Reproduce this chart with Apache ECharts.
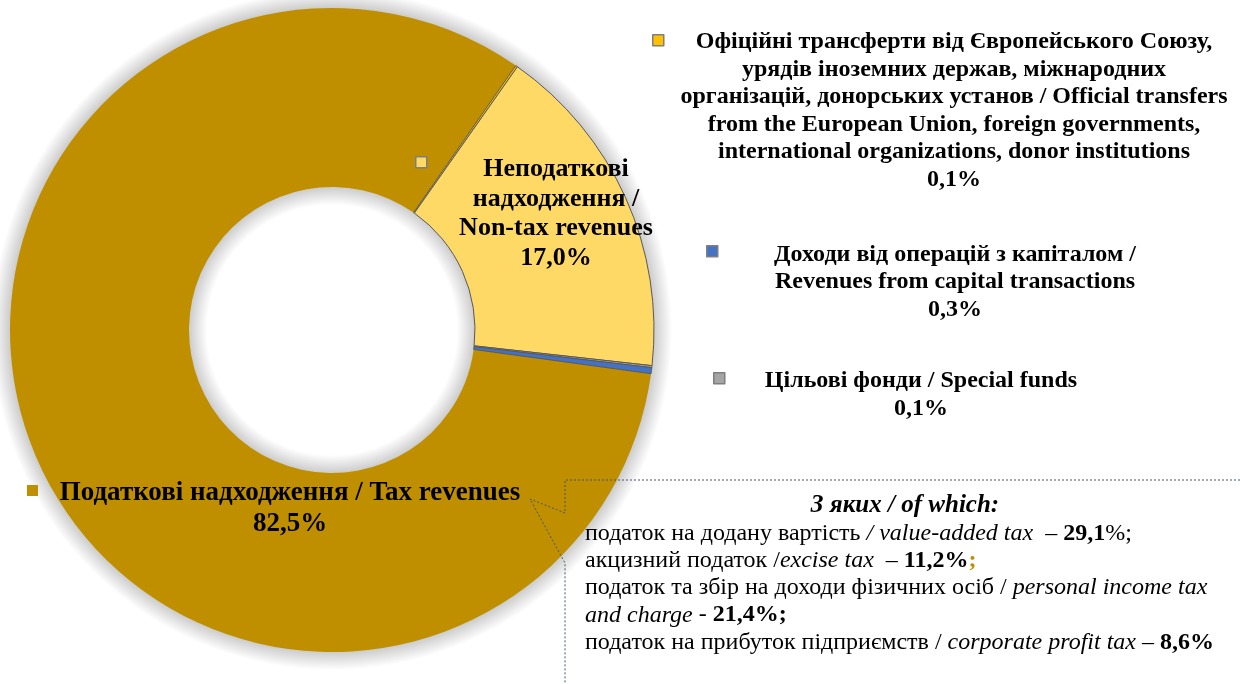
<!DOCTYPE html>
<html>
<head>
    <meta charset="UTF-8">
    <title>Revenues structure</title>
    <style type="text/css">
        html, body { margin: 0; padding: 0; background: #fff; }
        #mychart { width: 1240px; height: 684px; }
    </style>
</head>
<body>
<div id="mychart"></div>
<script src="https://cdn.jsdelivr.net/npm/echarts@6/dist/echarts.min.js"></script>
<script>
    // slices, clockwise from the start angle
    var categories = [
        'Податкові надходження / Tax revenues',
        'Офіційні трансферти від Європейського Союзу, урядів іноземних держав, міжнародних організацій, донорських установ / Official transfers from the European Union, foreign governments, international organizations, donor institutions',
        'Неподаткові надходження / Non-tax revenues',
        'Цільові фонди / Special funds',
        'Доходи від операцій з капіталом / Revenues from capital transactions'
    ];
    var shares = [82.5, 0.1, 17.0, 0.1, 0.3];

    // label text as wrapped in the picture
    var labelText = [
        'Податкові надходження / Tax revenues',
        'Офіційні трансферти від Європейського Союзу,\nурядів іноземних держав, міжнародних\nорганізацій, донорських установ / Official transfers\nfrom the European Union, foreign governments,\ninternational organizations, donor institutions',
        'Неподаткові\nнадходження /\nNon-tax revenues',
        'Цільові фонди / Special funds',
        'Доходи від операцій з капіталом /\nRevenues from capital transactions'
    ];

    var colors = ['#BF8F00', '#FFC000', '#FFD966', '#A5A5A5', '#4472C4'];

    // "of which" breakdown of tax revenues
    var subNames = [
        ['податок на додану вартість ', '/ value-added tax '],
        ['акцизний податок /', 'excise tax '],
        ['податок та збір на доходи фізичних осіб / ', 'personal income tax', 'and charge'],
        ['податок на прибуток підприємств / ', 'corporate profit tax']
    ];
    var subShares = [29.1, 11.2, 21.4, 8.6];

    // where labels / legend keys sit
    var labelPos = [[290, 478], [954, 28], [556, 155], [921, 367], [955, 241]];
    var labelSize = [[27, 31], [24, 27.6], [26, 29.5], [24, 28], [24, 27.5]];
    var keyPos = [[33, 491], [658, 40], [421, 162], [719, 378], [712, 251]];

    var serif = "'Liberation Serif', 'Times New Roman', serif";
    var pieCenter = [332, 330];
    var pieRadius = [143, 322];
    var halo = 18;

    function pct(v) {
        return v.toFixed(1).replace('.', ',') + '%';
    }

    var myChart = echarts.init(document.getElementById('mychart'));

    var data = [];
    for (var i = 0; i < categories.length; i++) {
        data.push({
            name: categories[i],
            value: shares[i],
            itemStyle: {
                color: colors[i],
                borderColor: i == 0 ? colors[i] : '#595959',
                borderWidth: i == 0 ? 0 : 1
            },
            label: {fontSize: labelSize[i][0], lineHeight: labelSize[i][1]}
        });
    }

    var legends = [];
    for (var k = 0; k < categories.length; k++) {
        legends.push({
            data: [categories[k]],
            left: keyPos[k][0] - 6,
            top: keyPos[k][1] - 6,
            padding: 0,
            itemWidth: 11,
            itemHeight: 11,
            icon: 'rect',
            selectedMode: false,
            formatter: function () { return ''; },
            itemStyle: {borderColor: k == 0 ? colors[0] : '#7F7F7F', borderWidth: k == 0 ? 0 : 1.5}
        });
    }

    var body = [];
    body.push('{n|' + subNames[0][0] + '}{i|' + subNames[0][1] + '}{n| – }{b|' + pct(subShares[0]).replace('%', '') + '}{n|%;}');
    body.push('{n|' + subNames[1][0] + '}{i|' + subNames[1][1] + '}{n| – }{b|' + pct(subShares[1]) + '}{g|;}');
    body.push('{n|' + subNames[2][0] + '}{i|' + subNames[2][1] + '}');
    body.push('{i|' + subNames[2][2] + '}{n| - }{b|' + pct(subShares[2]) + ';}');
    body.push('{n|' + subNames[3][0] + '}{i|' + subNames[3][1] + '}{n| – }{b|' + pct(subShares[3]) + '}');

    var fs = 24, lh = 27.2;

    // shadow halo drawn as a radial gradient on a slightly wider ring
    var rOut = pieRadius[1] + halo, rIn = pieRadius[0] - halo;
    var shade = 'rgba(0,0,0,0.2)';
    var haloFill = new echarts.graphic.RadialGradient(0.5, 0.5, 0.5, [
        {offset: rIn / rOut, color: 'rgba(0,0,0,0)'},
        {offset: pieRadius[0] / rOut, color: shade},
        {offset: pieRadius[1] / rOut, color: shade},
        {offset: 1, color: 'rgba(0,0,0,0)'}
    ]);

    option = {
        backgroundColor: '#fff',
        animation: false,
        legend: legends,
        series: [{
            type: 'pie',
            center: pieCenter,
            radius: pieRadius,
            startAngle: 352.2,
            clockwise: true,
            avoidLabelOverlap: false,
            data: data,
            emphasis: {disabled: true},
            label: {
                show: true,
                position: 'outside',
                fontFamily: serif,
                fontWeight: 'bold',
                color: '#000',
                align: 'center',
                formatter: function (p) {
                    return labelText[p.dataIndex] + '\n' + pct(p.value);
                }
            },
            labelLine: {show: false},
            labelLayout: function (p) {
                return {
                    x: labelPos[p.dataIndex][0],
                    y: labelPos[p.dataIndex][1],
                    align: 'center',
                    verticalAlign: 'top'
                };
            }
        }],
        graphic: [
            {
                type: 'ring',
                z: 0,
                silent: true,
                shape: {cx: pieCenter[0], cy: pieCenter[1], r: rOut, r0: rIn},
                style: {fill: haloFill}
            },
            {
                type: 'polyline',
                z: 100,
                shape: {points: [[1240, 480], [565, 480], [565, 513], [530, 499], [565, 563], [565, 684]]},
                style: {stroke: '#44546A', lineWidth: 1, lineDash: [2, 2], fill: null}
            },
            {
                type: 'text',
                z: 100,
                x: 905,
                y: 506,
                style: {
                    text: 'З яких / of which:',
                    font: "italic bold 25px 'Liberation Serif', serif",
                    fill: '#000',
                    align: 'center',
                    verticalAlign: 'middle'
                }
            },
            {
                type: 'text',
                z: 100,
                x: 585,
                y: 520,
                style: {
                    text: body.join('\n'),
                    fontFamily: serif,
                    fontSize: fs,
                    lineHeight: lh,
                    fill: '#000',
                    align: 'left',
                    verticalAlign: 'top',
                    rich: {
                        n: {fontFamily: serif, fontSize: fs, lineHeight: lh, fill: '#000'},
                        i: {fontFamily: serif, fontSize: fs, lineHeight: lh, fontStyle: 'italic', fill: '#000'},
                        b: {fontFamily: serif, fontSize: fs, lineHeight: lh, fontWeight: 'bold', fill: '#000'},
                        g: {fontFamily: serif, fontSize: fs, lineHeight: lh, fontWeight: 'bold', fill: '#BF8F00'}
                    }
                }
            }
        ]
    };

    myChart.setOption(option);
</script>
</body>
</html>
